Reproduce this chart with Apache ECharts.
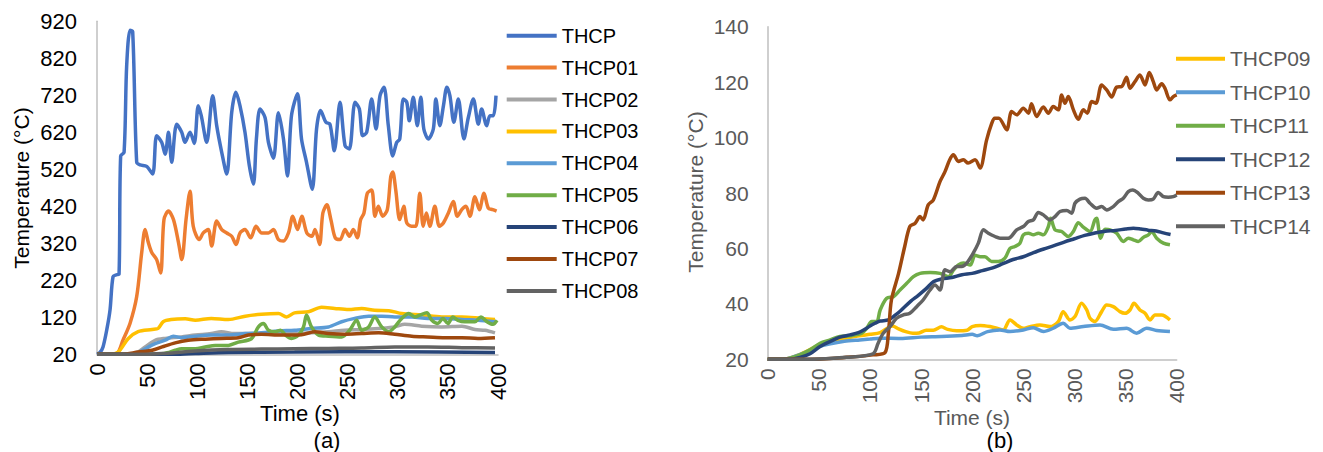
<!DOCTYPE html>
<html>
<head>
<meta charset="utf-8">
<script src="https://cdn.jsdelivr.net/npm/echarts@6/dist/echarts.min.js"></script>
<style>
  html, body { margin: 0; padding: 0; background: #ffffff; }
  #chart { width: 1323px; height: 452px; }
</style>
</head>
<body>
<div id="chart"></div>
<script>
// ---------- Panel (a) data: [time s, temperature °C] ----------
const THCP = [[0,20],[3,25],[6,40],[10,90],[13,140],[16,230],[19.6,235],[22,237],[23.6,556],[27,566],[29.6,800],[33,896],[35.6,892],[39.6,539],[43,532],[49.5,528],[55.5,507],[59.5,611],[64.5,593],[68,561],[71.3,620],[74.5,539],[79.5,642],[84.5,620],[87.8,593],[92.8,620],[97,590],[101,692],[104,665],[109.4,593],[115.4,719],[119.4,638],[124.4,566],[129.4,507],[134.4,674],[138.6,728],[142.6,692],[147.6,620],[152,529],[156,480],[159,602],[162.6,683],[167.6,660],[171,593],[176,550],[181,673],[186,602],[190,502],[194,665],[200,724],[204,602],[209,539],[214.7,466],[219,629],[223,679],[228.4,647],[232.4,642],[236.7,570],[242.4,701],[247.4,584],[251.7,575],[257.4,701],[261.7,683],[265,611],[269,620],[274,710],[278.3,629],[282.3,719],[286.3,742],[290.6,638],[295,556],[299,593],[302,602],[305.6,710],[309,701],[311.5,651],[315.5,715],[319.5,638],[323,715],[326,629],[330.5,602],[335.5,629],[338,710],[342,638],[345.6,692],[349,742],[352,719],[356,647],[360.4,710],[366,602],[370.4,660],[375.4,710],[380.4,642],[383.7,683],[388.7,638],[392,665],[395.4,665],[398,719]];
const THCP01 = [[0,20],[10,20],[19.6,22],[26,59],[33,104],[39.6,176],[44.6,295],[48,357],[51.2,322],[54.6,295],[59.5,276],[63.5,240],[66.8,384],[71.3,407],[76.3,384],[81.3,322],[84.6,276],[88.8,384],[92.8,461],[96,366],[102,330],[106,348],[111,357],[114.4,313],[119.4,380],[124.4,357],[129.4,348],[134.4,339],[138.7,317],[142.7,348],[147.6,357],[153.3,335],[158.6,366],[164.3,348],[171,348],[176,357],[181,330],[186,326],[191,348],[195.3,393],[200,357],[204.3,393],[209.3,348],[214.3,339],[217.5,357],[222,317],[225.3,402],[229.3,424],[233.3,384],[237.6,335],[242.4,330],[247.4,357],[251.7,339],[255.7,357],[259.7,335],[263,384],[266.3,402],[269.6,455],[274,464],[277.3,393],[280.6,420],[285,393],[289.6,411],[293,500],[295,513],[298,464],[302,384],[306,420],[309,375],[313.7,366],[318,366],[322,455],[325.4,366],[328.6,402],[332,366],[337,420],[341.5,366],[345.5,375],[350.5,402],[355.4,433],[359.4,393],[363.8,411],[368,420],[372,393],[377,446],[381.4,411],[386,455],[390.3,415],[394.7,411],[398.6,407]];
const THCP02 = [[0,20],[30,20],[40,25],[48,40],[58,58],[68,63],[84,67],[98,72],[114,76],[124,81],[137,76],[151,76],[164,76],[181,76],[197,76],[214,78],[231,81],[247,85],[264,87],[281,90],[297,94],[307,101],[324,96],[344,94],[364,96],[377,87],[387,85],[397,78]];
const THCP03 = [[0,20],[11,20],[21,26],[31,62],[41,81],[55,87],[61,90],[66,108],[74,114],[88,116],[98,112],[114,117],[131,114],[148,123],[164,128],[181,130],[189,121],[197,132],[211,135],[224,147],[237,144],[251,141],[264,144],[277,139],[291,138],[304,130],[324,126],[344,121],[364,121],[383,117],[397,114]];
const THCP04 = [[0,20],[35,20],[42,25],[48,35],[58,49],[68,58],[76,69],[84,65],[98,69],[114,72],[131,72],[148,76],[164,78],[181,83],[197,85],[214,90],[231,94],[244,108],[257,117],[271,123],[284,123],[297,121],[314,121],[330,117],[347,117],[364,114],[380,112],[397,108]];
const THCP05 = [[0,20],[60,20],[70,24],[78,31],[84.5,35],[98,35],[108,40],[118,44],[131,44],[141,53],[154,62],[161,94],[166,103],[171,85],[178,81],[183,85],[188,72],[194,63],[201,72],[206,94],[209,126],[214,94],[221,72],[231,69],[244,67],[252,85],[259,112],[264,85],[271,94],[277,121],[284,94],[291,81],[297,94],[304,117],[311,130],[317,121],[322,126],[329,132],[334,112],[340,103],[345,117],[350,103],[355,121],[360,112],[367,108],[377,108],[383,121],[389,108],[395,101],[399,112]];
const THCP06 = [[0,20],[80,20],[98,22],[131,25],[197,26],[297,27],[397,25]];
const THCP07 = [[0,20],[25,20],[41,26],[55,31],[65,40],[78,51],[91,58],[108,61],[124,63],[141,65],[151,72],[164,74],[184,72],[204,73],[217,81],[231,76],[247,74],[264,76],[281,78],[297,74],[314,69],[330,67],[347,65],[364,65],[380,63],[397,65]];
const THCP08 = [[0,20],[50,20],[65,22],[98,29],[131,33],[164,34],[197,35],[231,36],[264,37],[297,40],[330,40],[364,38],[397,37]];

// ---------- Panel (b) data ----------
const THCP09 = [[0,20],[15,20],[30,21.5],[50,25],[60,26],[75,27.5],[90,28.5],[100,29],[110,29.6],[118,31.5],[122,32],[128,31],[135,30],[142,29.4],[148,29.5],[155,30.5],[162,30.5],[170,31.7],[176,30.8],[185,30.3],[195,30.5],[200,31.8],[208,32.2],[217.4,31.8],[224,31.2],[230.4,30.6],[237,34.2],[243.5,32.4],[250,31.2],[256.5,31.8],[266.3,32.4],[276,31.8],[284.2,33.6],[289,37.2],[295.6,34.2],[300.5,35.4],[307,40.2],[312,37.8],[315.2,34.8],[320,33.6],[326.6,37.2],[331.5,39.6],[338,39],[344.5,37.2],[349.4,36.6],[354.3,37.8],[358.2,40.2],[364,37.8],[369,36.6],[373.9,34.2],[378.8,36],[385.3,36],[393.4,34.2]];
const THCP10 = [[0,20],[15,20],[30,21.5],[50,24.5],[60,25.5],[75,26.5],[90,27],[100,27.3],[110,27.6],[130,27.5],[150,28],[170,28.2],[190,28.6],[200,29],[205,28.5],[215,30],[227,30.6],[237,30],[250,30.6],[259.8,31.4],[269.6,30],[279.3,31.2],[289,33],[295.6,31.2],[308.7,31.8],[325,32.4],[338,30.8],[351,31.2],[360.8,29.4],[370.6,31.2],[380.4,30.4],[393.4,30]];
const THCP11 = [[0,20],[15,20],[22,20.4],[31.6,21.6],[41.4,23.4],[51.2,25.8],[61,27],[70.7,28.2],[80.5,28.5],[92,29.4],[96.8,31.2],[101.7,33.6],[106.6,33.6],[110,37.8],[116.4,42],[123,42.6],[129.4,45],[136,47.4],[142.5,49.8],[149,51],[158.8,51.3],[168.5,51],[176.7,49.8],[181.6,52.2],[186.5,54],[191.4,54.7],[198,54],[202.8,57.5],[208,57],[212.5,57],[219,55.3],[225.6,55.3],[232,56.5],[237,60],[241.8,60.7],[246.7,61.9],[250,64.9],[255,65.5],[259.8,64.9],[264.7,65.5],[269.6,64.9],[274.5,67.9],[276.7,70.9],[281,66.7],[287.5,66.1],[294,64.3],[298.9,66.1],[303.8,69.3],[308.7,67.7],[315.2,66.1],[320,70.3],[321.7,70.9],[325.6,63.7],[329.9,66.9],[334.8,66.7],[341.3,65.5],[347.8,62.5],[352.7,63.7],[357.6,63.1],[362.5,62.5],[367.4,64],[372.3,64.9],[375.5,66.1],[380.4,63.7],[387,61.9],[393.4,61.3]];
const THCP12 = [[0,20],[20,20],[31.6,20.7],[41.4,22],[51.2,24.6],[61,26.4],[70.7,28],[80.5,28.8],[88.7,29.6],[95,30.8],[100,32],[105,33],[110,33.8],[118,34.2],[125,36],[130,37.5],[140,41],[147,43],[155,45.5],[162,48],[170,49],[180,49.5],[190,50.5],[200,51],[210,52],[220,53],[230,54.5],[240,56],[250,57],[260,58.5],[270,59.8],[280,61],[290,62.3],[300,63.5],[310,64.7],[320,65.6],[330,66.2],[340,66.5],[350,67],[357.6,67.3],[365,67],[372,66.6],[380,66.3],[387,65.6],[394,65]];
const THCP13 = [[0,20],[40,20],[77,20.7],[103,21.6],[114.7,22.4],[118,29.4],[121,41.4],[128,51],[134,60.7],[139,67.9],[144,69],[149,71.5],[152,70.3],[157,75.7],[162,77.5],[168.5,84.1],[173.4,87.7],[178,92],[181.6,93.8],[186.5,91.4],[191.4,92],[196,90.8],[202.8,92],[207.7,89],[214,99],[219,105],[222,107],[226,107],[233.7,102.8],[238.6,109.4],[243.5,108.2],[250,110.6],[255,108.8],[258,112.2],[263,107.6],[269.6,111],[274.5,108.8],[279.3,111.2],[284.2,110],[287.5,115.4],[290.7,112.4],[294,114.8],[299,110],[303.8,106.6],[308.7,110],[312.6,108.8],[316.8,113],[321,112.4],[326.6,119],[331.5,117.2],[336.4,114.6],[341.3,118.2],[346.2,118.4],[351,121.8],[354.3,117.8],[359.2,120.2],[364,122.6],[369,119],[373.2,123.5],[377.1,120.2],[380.4,117.2],[385.3,119.4],[388.5,117.8],[393.4,113.6],[396.7,114.8],[400,115.4]];
const THCP14 = [[0,20],[40,20],[77,20.7],[103,22],[108,25.8],[113,29.4],[119.6,31.8],[126,34.8],[132.7,36],[139,36.6],[145.7,39],[152,41.4],[158.8,45],[163.6,46.8],[168.5,45],[173.4,52.3],[178.3,51.6],[184.8,53.5],[189.7,53.5],[194.6,54.7],[201,58.3],[206,61.9],[211,66.7],[215.8,65.5],[222.3,64.3],[227.2,63.7],[235.4,63.7],[243.5,66.7],[250,67.9],[255,69.7],[259.8,70.3],[264.7,73],[269.6,72.1],[276,70.3],[281,71.5],[285.9,73.3],[292.4,73.7],[297.3,72.7],[300.5,76.3],[305.4,77.8],[310.3,78.1],[315.2,76.3],[321.7,74.5],[326.6,75.1],[331.5,73.9],[338,75.1],[342.9,76.9],[347.8,78.1],[352.7,80.5],[357,81.1],[362.5,79.9],[367.4,78.1],[372.3,77.5],[377,77.8],[382,80.2],[387,78.7],[391.8,78.5],[396.7,78.7],[400,79.3]];

const namesA = ['THCP','THCP01','THCP02','THCP03','THCP04','THCP05','THCP06','THCP07','THCP08'];
const dataA = [THCP, THCP01, THCP02, THCP03, THCP04, THCP05, THCP06, THCP07, THCP08];
const namesB = ['THCP09','THCP10','THCP11','THCP12','THCP13','THCP14'];
const dataB = [THCP09, THCP10, THCP11, THCP12, THCP13, THCP14];

const colorsA = ['#4472C4','#ED7D31','#A5A5A5','#FFC000','#5B9BD5','#70AD47','#264478','#9E480E','#636363'];
const colorsB = ['#FFC000','#5B9BD5','#70AD47','#264478','#9E480E','#636363'];

const FONT = '"Liberation Sans", Arial, sans-serif';

function mkSeries(name, data, color, idx) {
  return {
    name: name, type: 'line', data: data,
    xAxisIndex: idx, yAxisIndex: idx,
    showSymbol: false, smooth: 0.3,
    lineStyle: { width: 3.5, color: color },
    itemStyle: { color: color },
    emphasis: { disabled: true },
    animation: false
  };
}

const series = [];
namesA.forEach((n, i) => series.push(mkSeries(n, dataA[i], colorsA[i], 0)));
namesB.forEach((n, i) => series.push(mkSeries(n, dataB[i], colorsB[i], 1)));

function xAxis(gridIndex, color, fs) {
  return {
    type: 'value', gridIndex: gridIndex, min: 0, max: 400, interval: 50,
    splitLine: { show: false }, axisTick: { show: false },
    axisLine: { lineStyle: { color: '#BFBFBF', width: 1.5 } },
    axisLabel: { rotate: 90, margin: 9, fontSize: fs, color: color, fontFamily: FONT }
  };
}

const chart = echarts.init(document.getElementById('chart'), null, { renderer: 'svg' });
chart.setOption({
  animation: false,
  backgroundColor: '#ffffff',
  grid: [
    { left: 97, top: 21.3, width: 401, height: 333, outerBoundsMode: 'none' },
    { left: 767.7, top: 26.7, width: 409, height: 332.6, outerBoundsMode: 'none' }
  ],
  xAxis: [ xAxis(0, '#000000', 22), xAxis(1, '#595959', 21) ],
  yAxis: [
    { type: 'value', gridIndex: 0, min: 20, max: 920, interval: 100,
      splitLine: { show: false }, axisTick: { show: false },
      axisLine: { show: true, lineStyle: { color: '#BFBFBF', width: 1.5 } },
      axisLabel: { margin: 20, fontSize: 22, color: '#000000', fontFamily: FONT } },
    { type: 'value', gridIndex: 1, min: 20, max: 140, interval: 20,
      splitLine: { show: false }, axisTick: { show: false },
      axisLine: { show: true, lineStyle: { color: '#BFBFBF', width: 1.5 } },
      axisLabel: { margin: 19, fontSize: 21, color: '#595959', fontFamily: FONT } }
  ],
  legend: [
    { data: namesA, orient: 'vertical', left: 506.7, top: 25.7, padding: 0,
      icon: 'rect', itemWidth: 50, itemHeight: 4, itemGap: 11.9, selectedMode: false,
      textStyle: { fontSize: 20, lineHeight: 20, color: '#000000', fontFamily: FONT } },
    { data: namesB, orient: 'vertical', left: 1176, top: 48.2, padding: 0,
      icon: 'rect', itemWidth: 49, itemHeight: 4, itemGap: 12.5, selectedMode: false,
      textStyle: { fontSize: 21, lineHeight: 21, color: '#595959', fontFamily: FONT } }
  ],
  graphic: [
    { type: 'text', x: 21, y: 188, rotation: Math.PI / 2,
      style: { text: 'Temperature (°C)', fontSize: 21, fill: '#000000', fontFamily: FONT, align: 'center', verticalAlign: 'middle' } },
    { type: 'text', x: 300, y: 413,
      style: { text: 'Time (s)', fontSize: 22, fill: '#000000', fontFamily: FONT, align: 'center', verticalAlign: 'middle' } },
    { type: 'text', x: 327, y: 440,
      style: { text: '(a)', fontSize: 22, fill: '#000000', fontFamily: FONT, align: 'center', verticalAlign: 'middle' } },
    { type: 'text', x: 695, y: 192, rotation: Math.PI / 2,
      style: { text: 'Temperature (°C)', fontSize: 21, fill: '#595959', fontFamily: FONT, align: 'center', verticalAlign: 'middle' } },
    { type: 'text', x: 972, y: 417,
      style: { text: 'Time (s)', fontSize: 21, fill: '#595959', fontFamily: FONT, align: 'center', verticalAlign: 'middle' } },
    { type: 'text', x: 1000, y: 440,
      style: { text: '(b)', fontSize: 22, fill: '#000000', fontFamily: FONT, align: 'center', verticalAlign: 'middle' } }
  ],
  series: series
});
</script>
</body>
</html>
